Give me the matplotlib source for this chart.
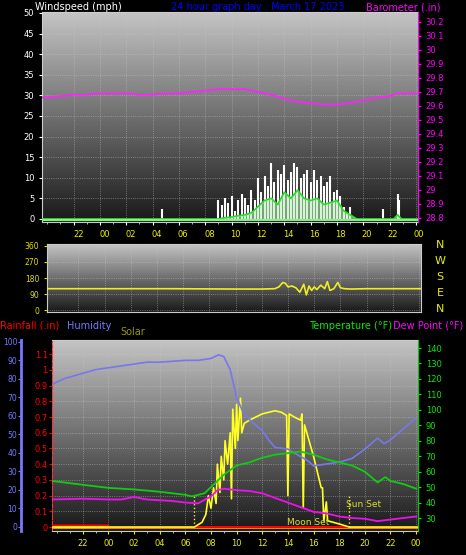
import numpy as np
import matplotlib
matplotlib.use("Agg")
import matplotlib.pyplot as plt

hour_ticks = [-2, 0, 2, 4, 6, 8, 10, 12, 14, 16, 18, 20, 22, 24]
hour_labels = ["22", "00", "02", "04", "06", "08", "10", "12", "14", "16", "18", "20", "22", "00"]
XMIN, XMAX = -4.4, 24.15

baro_t = [-4.4, -3, -2, -1, 0, 1, 2, 3, 4, 5, 6, 7, 8, 9, 10, 11, 12, 13, 14, 15, 16, 17, 18, 19, 20, 21, 22, 22.5, 23, 24]
baro_v = [29.66, 29.67, 29.68, 29.68, 29.69, 29.69, 29.69, 29.68, 29.68, 29.69, 29.69, 29.70, 29.71, 29.72, 29.72, 29.72, 29.70, 29.68, 29.65, 29.63, 29.62, 29.61, 29.61, 29.62, 29.64, 29.66, 29.67, 29.69, 29.69, 29.69]

gust_t = [4.7, 9.0, 9.25, 9.5, 9.75, 10.0, 10.25, 10.5, 10.75, 11.0, 11.25, 11.5, 11.75, 12.0, 12.25, 12.5, 12.75,
          13.0, 13.25, 13.5, 13.75, 14.0, 14.25, 14.5, 14.75, 15.0, 15.25, 15.5, 15.75, 16.0, 16.25, 16.5, 16.75,
          17.0, 17.25, 17.5, 17.75, 18.0, 18.25, 18.5, 18.75, 19.0, 21.5, 22.6, 22.7]
gust_v = [2.5, 4.5, 3.5, 5.0, 4.0, 5.5, 2.0, 4.5, 6.0, 5.0, 3.5, 7.0, 4.5, 10.0, 6.5, 10.5, 8.0,
          13.5, 9.0, 12.0, 11.0, 13.0, 9.5, 11.5, 13.5, 12.5, 10.0, 11.0, 12.0, 9.0, 12.0, 9.5, 10.5,
          8.0, 9.0, 10.5, 6.5, 7.0, 5.5, 3.0, 1.5, 3.0, 2.5, 6.0, 4.5]
avg_t = [-4.4, 9.0, 9.5, 10.0, 10.5, 11.0, 11.5, 12.0, 12.5, 13.0, 13.5, 14.0, 14.5, 15.0, 15.5, 16.0,
         16.5, 17.0, 17.5, 18.0, 18.5, 19.0, 19.5, 22.3, 22.6, 22.9, 24.15]
avg_v = [0, 0, 0.3, 0.5, 0.8, 1.0, 1.5, 3.0, 4.5, 5.0, 3.5, 6.5, 5.0, 7.0, 5.0, 4.5,
         5.0, 3.5, 4.0, 4.5, 2.0, 1.0, 0, 0, 1.0, 0, 0]

dir_t = [-4.4, 0, 5, 10, 12, 13, 13.3, 13.6, 13.8, 14.0, 14.3, 14.6, 14.9, 15.2, 15.4, 15.6, 15.8, 16.0, 16.2,
         16.5, 16.8, 17.0, 17.2, 17.5, 17.8, 18.0, 18.3, 18.8, 20, 24.15]
dir_v = [120, 120, 120, 118, 118, 120, 130, 155, 150, 130, 135, 125, 100, 145, 85, 135, 110, 130, 115,
         140, 120, 160, 110, 120, 155, 125, 120, 118, 120, 120]

hum_t = [-4.4, -3.5, -2, -1, 0, 1, 2, 3, 4, 5, 6, 7, 8, 8.6, 9, 9.5, 10, 10.5, 11, 12, 12.5, 13, 14, 15, 15.5,
         16, 17, 18, 19, 20, 21, 21.5, 22, 23, 24]
hum_v = [77, 80, 83, 85, 86, 87, 88, 89, 89, 89.5, 90, 90, 91, 93, 92, 85, 70, 62, 58, 52, 47, 43, 42, 38, 36,
         33, 34, 35, 37, 42, 48, 45, 47, 53, 59]

temp_t = [-4.4, -2, 0, 2, 4, 6, 6.5, 7.5, 8, 9, 10, 11, 12, 13, 14, 15, 16, 17, 18, 19, 19.5, 20, 21, 21.6, 22, 23, 24]
temp_v = [54, 51.5, 49.5, 48.5, 47, 45, 44, 46, 50, 58, 64, 66, 69, 71, 72, 73, 71, 68, 66, 64, 62, 60, 53, 56.5, 54, 52, 49]

dew_t = [-4.4, -2, 0, 1, 2, 3, 4, 5, 6, 7, 8, 8.5, 9, 10, 11, 12, 13, 14, 15, 16, 17, 18, 19, 20, 21, 22, 23, 24]
dew_v = [42, 42.5, 42, 42, 43.6, 42, 41.5, 41, 40, 39.5, 44, 48, 49, 48, 47.5, 46, 43, 40, 37, 34, 33, 31, 30, 29.5, 28, 29, 30, 31]

solar_t = [-4.4, 6.7, 7.3, 7.6, 7.8, 8.0, 8.2, 8.4, 8.5, 8.7, 8.8, 9.0, 9.1, 9.3, 9.5, 9.6, 9.7, 9.9, 10.0,
           10.1, 10.3, 10.4, 10.6, 11, 12, 13, 13.5, 13.9, 14.0, 14.1, 14.5, 15.0, 15.1, 15.2, 15.3, 16.0, 16.6,
           16.7, 16.8, 17.0, 17.1, 18.0, 18.8, 24.15]
solar_v = [0, 0, 0.03, 0.08, 0.2, 0.12, 0.25, 0.15, 0.4, 0.22, 0.45, 0.3, 0.55, 0.4, 0.6, 0.18, 0.75, 0.5, 0.78,
           0.55, 0.82, 0.6, 0.66, 0.68, 0.72, 0.74, 0.73, 0.71, 0.2, 0.72, 0.7, 0.68, 0.72, 0.12, 0.65, 0.45, 0.25,
           0.25, 0.04, 0.16, 0.04, 0.02, 0.0, 0.0]

rain_t = [-4.4, 0, 0.01, 24.15]
rain_v = [0.01, 0.01, 0.0, 0.0]

W, H = 466, 555
fig = plt.figure(figsize=(W / 100, H / 100), dpi=100, facecolor="black")

def rect(l, t, r, b):
    return [l / W, 1 - b / H, (r - l) / W, (b - t) / H]

grad = np.linspace(0, 1, 256).reshape(-1, 1)

def style(ax):
    ax.set_facecolor("black")
    ax.imshow(grad, aspect="auto", cmap="gray", vmin=-0.15, vmax=1.35, extent=[0, 1, 0, 1],
              transform=ax.transAxes, zorder=0, origin="lower")
    ax.set_xlim(XMIN, XMAX)
    ax.set_xticks(hour_ticks)
    ax.set_xticks(np.arange(-4, 24.1, 1), minor=True)
    ax.tick_params(axis="x", which="minor", length=1.5, colors="#cccccc")
    ax.grid(True, color="#c8c8c8", linestyle=":", linewidth=0.6, alpha=0.6)
    ax.set_axisbelow(False)
    for s in ax.spines.values():
        s.set_color("#cccccc")

fs = 6

# ---- top panel
ax1 = fig.add_axes(rect(42, 12, 418, 222))
style(ax1)
ax1.set_ylim(-0.73, 50.24)
ax1.set_yticks(range(0, 51, 5))
ax1.tick_params(axis="y", colors="white", labelsize=fs, length=2)
ax1.tick_params(axis="x", labelbottom=False, length=2, colors="white")
ax1.vlines(gust_t, 0, gust_v, colors="white", linewidth=1.5, zorder=3)
ax1.fill_between(avg_t, 0, avg_v, color="#b8f0b8", alpha=0.6, zorder=3)
ax1.plot(avg_t, avg_v, color="#22dd22", linewidth=1.2, zorder=4)
ax1.axhline(-0.3, color="#88ee88", linewidth=1.5, zorder=4)
ax1b = ax1.twinx()
ax1b.set_ylim(28.771, 30.271)
ax1b.set_yticks(np.round(np.arange(28.8, 30.25, 0.1), 1))
ax1b.set_yticklabels([f"{v:g}" for v in np.round(np.arange(28.8, 30.25, 0.1), 1)])
ax1b.tick_params(axis="y", colors="#ff00ff", labelsize=fs, length=2)
for s in ax1b.spines.values():
    s.set_visible(False)
ax1b.spines["right"].set_visible(True)
ax1b.spines["right"].set_color("#ff00ff")
ax1b.plot(baro_t, baro_v, color="#ff22ff", linewidth=1.3)
fig.text(35 / W, 1 - 7 / H, "Windspeed (mph)", color="white", fontsize=7, va="center")
fig.text(258 / W, 1 - 7 / H, "24 hour graph day : March 17 2023", color="#0000ff", fontsize=7, va="center", ha="center")
fig.text(440 / W, 1 - 7 / H, "Barometer (.in)", color="#ff00ff", fontsize=7, va="center", ha="right")

# ---- middle panel
ax2 = fig.add_axes(rect(47, 244, 421, 312))
style(ax2)
ax2.set_ylim(-11, 371)
ax2.set_yticks([0, 90, 180, 270, 360])
ax2.tick_params(axis="y", colors="#dddd00", labelsize=fs - 0.5, length=2)
ax2.tick_params(axis="x", which="both", labelbottom=False, labeltop=True, top=False, bottom=False,
                colors="#eeee00", labelsize=fs, length=0)
ax2.set_xticklabels(hour_labels)
ax2.plot(dir_t, dir_v, color="#eeee22", linewidth=1.2, zorder=3)
for i, c in enumerate("NWSEN"):
    fig.text(440 / W, 1 - (245 + i * 16) / H, c, color="#eeee00", fontsize=8, ha="center", va="center")

# ---- bottom panel
ax3 = fig.add_axes(rect(52, 340, 418, 531))
style(ax3)
ax3.set_ylim(-0.025, 1.19)
ax3.set_yticks(np.round(np.arange(0, 1.11, 0.1), 1))
ax3.set_yticklabels([f"{v:g}" for v in np.round(np.arange(0, 1.11, 0.1), 1)])
ax3.tick_params(axis="y", colors="#ff0000", labelsize=fs, length=2, pad=1)
ax3.spines["left"].set_color("#ff3333")
ax3.spines["left"].set_linestyle("--")
ax3.tick_params(axis="x", colors="#eeee00", labelsize=fs, length=2)
ax3.set_xticklabels(hour_labels)
ax3.axhline(0.0, color="#ffaa00", linewidth=2, zorder=3)
ax3.plot(rain_t, rain_v, color="#ff0000", linewidth=1.5, zorder=4)
ax3.plot(solar_t, solar_v, color="#ffff22", linewidth=1.2, zorder=5)
ax3.vlines([6.7, 18.8], 0, 0.2, colors="#eeee44", linestyles=":", linewidth=1, zorder=5)
ax3.text(18.5, 0.13, "Sun Set", color="#dddd33", fontsize=6.5, zorder=6)
ax3.text(13.9, 0.0, "Moon Set", color="#dddd33", fontsize=6.5, zorder=6, va="bottom")

axh = ax3.twinx()
axh.set_ylim(-2.2, 101)
axh.yaxis.tick_left()
axh.spines["left"].set_position(("outward", 22))
axh.spines["left"].set_color("#7777ff")
axh.spines["left"].set_linewidth(2)
axh.spines["right"].set_visible(False)
axh.spines["top"].set_visible(False)
axh.spines["bottom"].set_visible(False)
axh.set_yticks(range(0, 101, 10))
axh.tick_params(axis="y", colors="#7777ff", labelsize=fs - 0.5, length=2, pad=1)
axh.plot(hum_t, hum_v, color="#7777ee", linewidth=1.2)

axt = ax3.twinx()
axt.set_ylim(21.6, 145.2)
axt.set_yticks(range(30, 141, 10))
axt.tick_params(axis="y", colors="#00ee00", labelsize=fs, length=2)
for s in ["left", "top", "bottom"]:
    axt.spines[s].set_visible(False)
axt.spines["right"].set_color("#00cc00")
axt.plot(temp_t, temp_v, color="#11cc11", linewidth=1.3)
axt.plot(dew_t, dew_v, color="#ee11ee", linewidth=1.3)

fig.text(0, 1 - 326 / H, "Rainfall (.in)", color="#ff0000", fontsize=7, va="center")
fig.text(67 / W, 1 - 326 / H, "Humidity", color="#7777ff", fontsize=7, va="center")
fig.text(120 / W, 1 - 332 / H, "Solar", color="#999900", fontsize=7, va="center")
fig.text(392 / W, 1 - 326 / H, "Temperature (°F)", color="#00ee00", fontsize=7, va="center", ha="right")
fig.text(463 / W, 1 - 326 / H, "Dew Point (°F)", color="#ff00ff", fontsize=7, va="center", ha="right")

fig.savefig("out.png", dpi=100, facecolor="black")
